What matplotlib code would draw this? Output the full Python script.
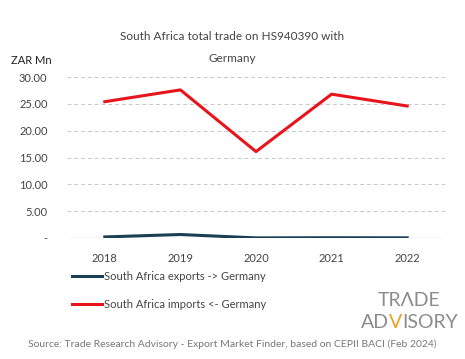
import matplotlib.pyplot as plt
import numpy as np

plt.rcParams['font.family'] = ['Lato', 'DejaVu Sans']

years = ['2018', '2019', '2020', '2021', '2022']
exports = [0.20, 0.65, 0.02, 0.05, 0.03]
imports = [25.4, 27.6, 16.1, 26.8, 24.6]
yticks = [0, 5, 10, 15, 20, 25, 30]
ytick_labels = ['-', '5.00', '10.00', '15.00', '20.00', '25.00', '30.00']

fig = plt.figure(figsize=(4.65, 3.59), dpi=100)
ax = fig.add_axes([67 / 465, 1 - 238 / 359, 378 / 465, 161 / 359])

x = np.arange(len(years))
ax.plot(x, exports, color='#1b3f55', lw=2.2, label='South Africa exports -> Germany')
ax.plot(x, imports, color='#e8141c', lw=2.2, label='South Africa imports <- Germany')

ax.set_xlim(-0.5, len(years) - 0.5)
ax.set_ylim(0, 30)
ax.set_yticks(yticks)
ax.set_yticklabels(ytick_labels)
ax.set_xticks(x)
ax.set_xticklabels(years)
for y in yticks[1:]:
    ax.axhline(y, color='#c8c8c8', lw=0.7, ls=(0, (4, 3)), zorder=0)
ax.axhline(0, color='#c8c8c8', lw=0.9, zorder=0)
for s in ax.spines.values():
    s.set_visible(False)
ax.tick_params(length=0, labelsize=8, colors='#444444')
ax.tick_params(axis='x', pad=11)
ax.tick_params(axis='y', pad=14)

fig.text(0.5, 1 - 37 / 359, 'South Africa total trade on HS940390 with', ha='center', va='center',
         fontsize=8.5, color='#444444')
fig.text(0.5, 1 - 59 / 359, 'Germany', ha='center', va='center', fontsize=8.5, color='#444444')
fig.text(11 / 465, 1 - 61 / 359, 'ZAR Mn', ha='left', va='center', fontsize=8, color='#222222')

handles, labels = ax.get_legend_handles_labels()
fig.legend(handles, labels, loc='upper left', bbox_to_anchor=(72 / 465, 1 - 271 / 359),
           frameon=False, fontsize=8, labelcolor='#444444', handlelength=2.7,
           handletextpad=0.2, labelspacing=1.5, borderaxespad=0, borderpad=0)

# logo: grey letters, orange V in ADVISORY
renderer = fig.canvas.get_renderer()
fig.text(409 / 465, 1 - 300 / 359, 'TRΛDE', ha='center', va='center', fontsize=14,
         color='#8c8c8c')
parts = [('AD', '#8c8c8c'), ('V', '#f0a020'), ('ISORY', '#8c8c8c')]
texts = [fig.text(0, 1 - 322 / 359, p, ha='left', va='center', fontsize=14, color=c)
         for p, c in parts]
widths = [t.get_window_extent(renderer).width for t in texts]
xpos = 409 - sum(widths) / 2
for t, w in zip(texts, widths):
    t.set_x(xpos / 465)
    xpos += w

fig.text(0.5, 1 - 344 / 359,
         'Source: Trade Research Advisory - Export Market Finder, based on CEPII BACI (Feb 2024)',
         ha='center', va='center', fontsize=7.5, color='#777777')

fig.savefig('out.png', dpi=100)
